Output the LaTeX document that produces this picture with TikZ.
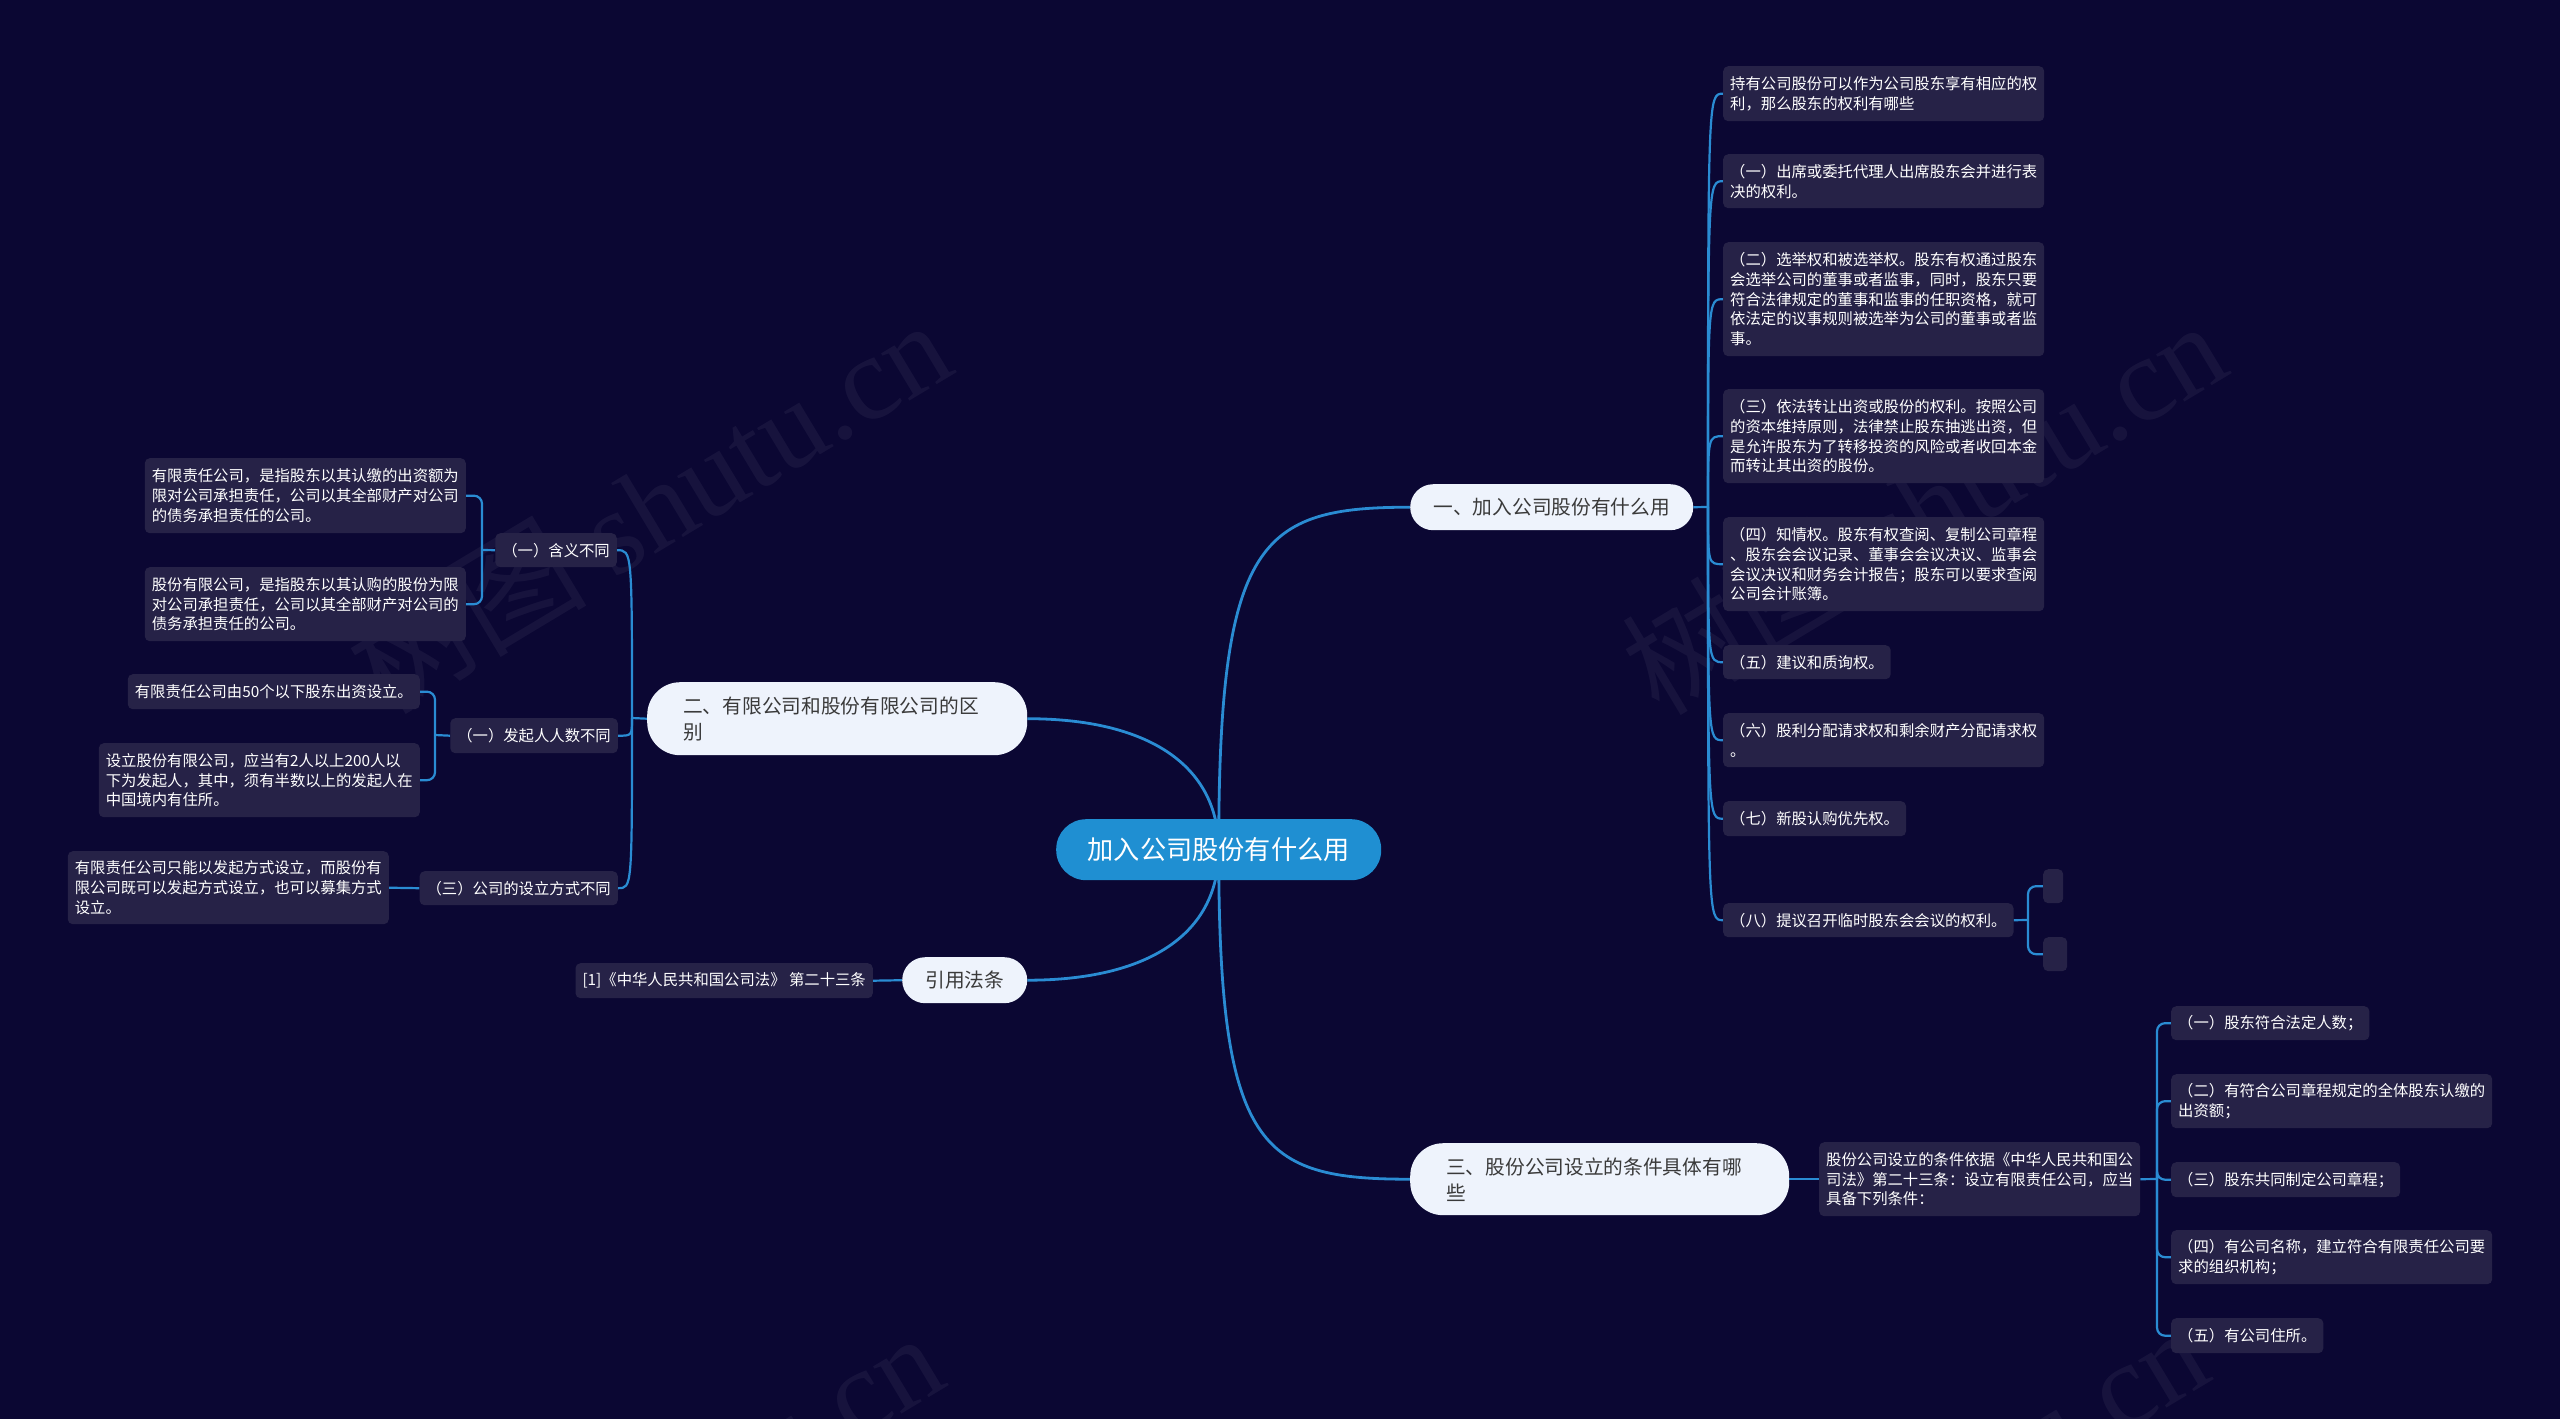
\documentclass[tikz,border=0pt]{standalone}
\usepackage{fontspec}
\setmainfont{Noto Sans CJK SC}
\newfontfamily\wmfont{Liberation Serif}
\usetikzlibrary{calc}
\definecolor{bgc}{HTML}{0B0733}
\definecolor{leafc}{HTML}{262247}
\definecolor{linec}{HTML}{2A8CD3}
\definecolor{pillc}{HTML}{EEF3FC}
\definecolor{rootc}{HTML}{1F8FD2}
\definecolor{pilltext}{HTML}{3A3A3A}
\pgfdeclarelayer{back}
\pgfdeclarelayer{lines}
\pgfsetlayers{back,lines,main}
\begin{document}
\begin{tikzpicture}[x=1pt,y=-1pt,
  leaf/.style={fill=leafc, text=white, rounded corners=5pt, inner xsep=7pt, inner ysep=0pt, align=left, font=\fontsize{15.35}{19.8}\selectfont},
  pill/.style={fill=pillc, text=pilltext, inner ysep=0pt, font=\fontsize{19.7}{26}\selectfont},
  conn/.style={draw=linec, line width=2.2pt},
  mainconn/.style={draw=linec, line width=2.8pt},
  wm/.style={text=white, opacity=0.05, rotate=31, font=\fontsize{120}{120}\selectfont}
]
\useasboundingbox (0,0) rectangle (2560,1419);
\begin{pgfonlayer}{back}
\fill[bgc] (0,0) rectangle (2560,1419);
\begin{scope}
\clip (0,0) rectangle (2560,1419);
\node[wm] (wm1) at (648,505) {树图 {\wmfont shutu.cn}};
\node[wm] (wm2) at (1923,506) {树图 {\wmfont shutu.cn}};
\node[wm] (wm3) at (640,1518) {树图 {\wmfont shutu.cn}};
\node[wm] (wm4) at (1905,1512) {树图 {\wmfont shutu.cn}};
\end{scope}
\end{pgfonlayer}

% root and branches
\node[fill=rootc, text=white, rounded corners=30pt, minimum width=325pt, minimum height=61pt, inner sep=0pt, font=\fontsize{26.2}{30}\selectfont, anchor=north west] (root) at (1056,819) {加入公司股份有什么用};
\node[pill, rounded corners=23pt, minimum width=283pt, minimum height=46pt, inner xsep=0pt, anchor=north west] (b1) at (1410,484) {一、加入公司股份有什么用};
\node[pill, rounded corners=33pt, text width=308pt, inner xsep=36pt, align=left, minimum height=73pt, anchor=north west] (b2) at (647,682) {二、有限公司和股份有限公司的区\\别};
\node[pill, rounded corners=33pt, text width=307pt, inner xsep=36pt, align=left, minimum height=72pt, anchor=north west] (b3) at (1410,1143) {三、股份公司设立的条件具体有哪\\些};
\node[pill, rounded corners=23pt, minimum width=125pt, minimum height=46pt, inner xsep=0pt, anchor=north west] (b4) at (902,957) {引用法条};

% right leaves of branch 1
\node[leaf, anchor=north west, minimum height=55pt] (r1) at (1723,66) {持有公司股份可以作为公司股东享有相应的权\\利，那么股东的权利有哪些};
\node[leaf, anchor=north west, minimum height=54pt] (r2) at (1723,154) {（一）出席或委托代理人出席股东会并进行表\\决的权利。};
\node[leaf, anchor=north west, minimum height=114pt] (r3) at (1723,242) {（二）选举权和被选举权。股东有权通过股东\\会选举公司的董事或者监事，同时，股东只要\\符合法律规定的董事和监事的任职资格，就可\\依法定的议事规则被选举为公司的董事或者监\\事。};
\node[leaf, anchor=north west, minimum height=94pt] (r4) at (1723,389) {（三）依法转让出资或股份的权利。按照公司\\的资本维持原则，法律禁止股东抽逃出资，但\\是允许股东为了转移投资的风险或者收回本金\\而转让其出资的股份。};
\node[leaf, anchor=north west, minimum height=94pt] (r5) at (1723,517) {（四）知情权。股东有权查阅、复制公司章程\\、股东会会议记录、董事会会议决议、监事会\\会议决议和财务会计报告；股东可以要求查阅\\公司会计账簿。};
\node[leaf, anchor=north west, minimum height=34pt] (r6) at (1723,645) {（五）建议和质询权。};
\node[leaf, anchor=north west, minimum height=54pt] (r7) at (1723,713) {（六）股利分配请求权和剩余财产分配请求权\\。};
\node[leaf, anchor=north west, minimum height=35pt] (r8) at (1723,801) {（七）新股认购优先权。};
\node[leaf, anchor=north west, minimum height=34pt] (r9) at (1723,903) {（八）提议召开临时股东会会议的权利。};
\node[leaf, anchor=north west, minimum height=34pt, minimum width=20pt, inner xsep=0pt] (e1) at (2043,869) {};
\node[leaf, anchor=north west, minimum height=34pt, minimum width=24pt, inner xsep=0pt] (e2) at (2043,937) {};

% left side of branch 2
\node[leaf, anchor=north east, minimum height=34pt] (m1) at (617,533) {（一）含义不同};
\node[leaf, anchor=north east, minimum height=35pt] (m2) at (618,718) {（一）发起人人数不同};
\node[leaf, anchor=north east, minimum height=34pt] (m3) at (618,871) {（三）公司的设立方式不同};
\node[leaf, anchor=north east, minimum height=75pt] (la) at (466,458) {有限责任公司，是指股东以其认缴的出资额为\\限对公司承担责任，公司以其全部财产对公司\\的债务承担责任的公司。};
\node[leaf, anchor=north east, minimum height=74pt] (lb) at (466,567) {股份有限公司，是指股东以其认购的股份为限\\对公司承担责任，公司以其全部财产对公司的\\债务承担责任的公司。};
\node[leaf, anchor=north east, minimum height=35pt] (lc) at (420,674) {有限责任公司由50个以下股东出资设立。};
\node[leaf, anchor=north east, minimum height=74pt] (ld) at (420,743) {设立股份有限公司，应当有2人以上200人以\\下为发起人，其中，须有半数以上的发起人在\\中国境内有住所。};
\node[leaf, anchor=north east, minimum height=73pt] (le) at (389,851) {有限责任公司只能以发起方式设立，而股份有\\限公司既可以发起方式设立，也可以募集方式\\设立。};

% reference leaf
\node[leaf, anchor=north east, minimum height=35pt] (lref) at (873,963) {[1]《中华人民共和国公司法》 第二十三条};

% branch 3 leaves
\node[leaf, anchor=north west, minimum height=74pt] (f) at (1819,1142) {股份公司设立的条件依据《中华人民共和国公\\司法》第二十三条：设立有限责任公司，应当\\具备下列条件：};
\node[leaf, anchor=north west, minimum height=34pt] (g1) at (2171,1006) {（一）股东符合法定人数；};
\node[leaf, anchor=north west, minimum height=54pt] (g2) at (2171,1074) {（二）有符合公司章程规定的全体股东认缴的\\出资额；};
\node[leaf, anchor=north west, minimum height=35pt] (g3) at (2171,1162) {（三）股东共同制定公司章程；};
\node[leaf, anchor=north west, minimum height=54pt] (g4) at (2171,1230) {（四）有公司名称，建立符合有限责任公司要\\求的组织机构；};
\node[leaf, anchor=north west, minimum height=35pt] (g5) at (2171,1318) {（五）有公司住所。};

\coordinate (rs) at (1708,507);
\coordinate (ls) at (632,718);
\coordinate (k9) at (2028,920);
\coordinate (km1) at (482,550);
\coordinate (km2) at (435,735);
\coordinate (kf) at (2157,1179);

\begin{pgfonlayer}{lines}
% root to branches
\draw[mainconn] (root.center) .. controls +(0,-310) and +(-150,0) .. (b1.west);
\draw[mainconn] (root.center) .. controls +(0,-85) and +(120,0) .. (b2.east);
\draw[mainconn] (root.center) .. controls +(0,300) and +(-150,0) .. (b3.west);
\draw[mainconn] (root.center) .. controls +(0,85) and +(120,0) .. (b4.east);
% branch 1
\draw[conn] (b1.east) -- (rs);
\foreach \n in {r1,r2,r3,r4,r5,r6,r7,r8,r9}{
  \draw[conn] (rs) .. controls (rs |- \n.west) .. (\n.west);
}
\draw[conn] (r9.east) -- (k9);
\draw[conn, rounded corners=8pt] (k9) |- (e1.west);
\draw[conn, rounded corners=8pt] (k9) |- (e2.west);
% branch 2
\draw[conn] (b2.west) -- (ls);
\foreach \n in {m1,m2,m3}{
  \draw[conn] (ls) .. controls (ls |- \n.east) .. (\n.east);
}
\draw[conn] (m1.west) -- (km1);
\draw[conn, rounded corners=8pt] (km1) |- (la.east);
\draw[conn, rounded corners=8pt] (km1) |- (lb.east);
\draw[conn] (m2.west) -- (km2);
\draw[conn, rounded corners=8pt] (km2) |- (lc.east);
\draw[conn, rounded corners=8pt] (km2) |- (ld.east);
\draw[conn] (m3.west) -- (le.east);
% reference
\draw[conn] (b4.west) -- (lref.east);
% branch 3
\draw[conn] (b3.east) -- (f.west);
\draw[conn] (f.east) -- (kf);
\foreach \n in {g1,g2,g3,g4,g5}{
  \draw[conn, rounded corners=8pt] (kf) |- (\n.west);
}
\end{pgfonlayer}
\end{tikzpicture}
\end{document}
